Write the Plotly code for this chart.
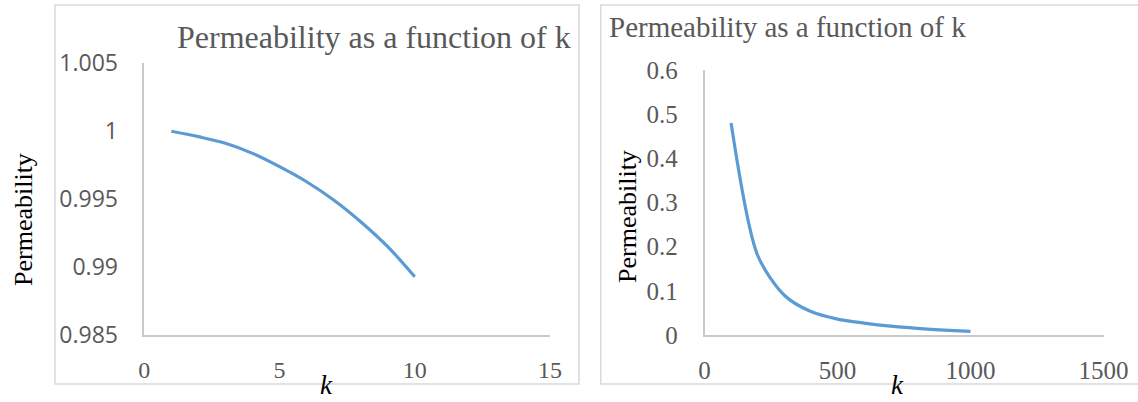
import plotly.graph_objects as go

# ---- data ----
k_small = [1, 2, 3, 4, 5, 6, 7, 8, 9, 10]
perm_small = [1.0, 0.9996, 0.99911, 0.99837, 0.99739, 0.99628, 0.99494, 0.99334, 0.9915, 0.98929]

k_large = [100, 200, 300, 400, 500, 600, 700, 800, 900, 1000]
perm_large = [0.48, 0.18, 0.09, 0.053, 0.036, 0.027, 0.020, 0.015, 0.011, 0.008]

left_x_ticks = [0, 5, 10, 15]
left_y_ticks = [0.985, 0.99, 0.995, 1.0, 1.005]
left_y_text = ["0.985", "0.99", "0.995", "1", "1.005"]
right_x_ticks = [0, 500, 1000, 1500]
right_y_ticks = [0, 0.1, 0.2, 0.3, 0.4, 0.5, 0.6]
right_y_text = ["0", "0.1", "0.2", "0.3", "0.4", "0.5", "0.6"]

title_text = "Permeability as a function of k"
y_title = "Permeability"
x_title = "k"

# ---- layout helpers ----
W, H = 1138, 402
def dx(px):
    return px / W
def dy(py):
    return 1 - py / H

LINE = "#5B9BD5"
TXT = "#595959"
AX = "#C9C9C9"
BOX = "#D9D9D9"
SERIF = "Liberation Serif"
SANS = "Open Sans"

fig = go.Figure()
fig.add_trace(go.Scatter(x=k_small, y=perm_small, mode="lines", line=dict(color=LINE, width=3.2, shape="spline"),
                         xaxis="x", yaxis="y", showlegend=False, hoverinfo="skip"))
fig.add_trace(go.Scatter(x=k_large, y=perm_large, mode="lines", line=dict(color=LINE, width=3.2, shape="spline", smoothing=0.8),
                         xaxis="x2", yaxis="y2", showlegend=False, hoverinfo="skip"))

common = dict(showgrid=False, zeroline=False, showline=True, linecolor=AX, linewidth=1.5, automargin=False,
              ticks="outside", tickcolor="rgba(0,0,0,0)", fixedrange=True)

fig.update_layout(
    width=W, height=H,
    margin=dict(l=0, r=0, t=0, b=0, pad=0, autoexpand=False),
    paper_bgcolor="white", plot_bgcolor="white",
    xaxis=dict(domain=[dx(144.3), dx(550)], range=[0, 15], tickvals=left_x_ticks,
               tickfont=dict(family=SERIF, size=24, color=TXT), ticklen=12, anchor="y", **common),
    yaxis=dict(domain=[dy(335), dy(63.3)], range=[0.985, 1.005], tickvals=left_y_ticks, ticktext=left_y_text,
               tickfont=dict(family=SANS, size=23, color=TXT), ticklen=20, anchor="x", **common),
    xaxis2=dict(domain=[dx(704.5), dx(1103.5)], range=[0, 1500], tickvals=right_x_ticks,
                tickfont=dict(family=SERIF, size=25, color=TXT), ticklen=12, anchor="y2", **common),
    yaxis2=dict(domain=[dy(335), dy(70)], range=[0, 0.6], tickvals=right_y_ticks, ticktext=right_y_text,
                tickfont=dict(family=SERIF, size=25, color=TXT), ticklen=20, anchor="x2", **common),
    shapes=[
        dict(type="rect", xref="paper", yref="paper", x0=dx(55), x1=dx(579), y0=dy(384), y1=dy(5),
             line=dict(color=BOX, width=1.5), fillcolor="rgba(0,0,0,0)", layer="below"),
        dict(type="rect", xref="paper", yref="paper", x0=dx(600.7), x1=dx(1150), y0=dy(384), y1=dy(5),
             line=dict(color=BOX, width=1.5), fillcolor="rgba(0,0,0,0)", layer="below"),
    ],
    annotations=[
        dict(text=title_text, xref="paper", yref="paper", x=dx(374), y=dy(37), xanchor="center", yanchor="middle",
             showarrow=False, font=dict(family=SERIF, size=32, color=TXT)),
        dict(text=title_text, xref="paper", yref="paper", x=dx(607), y=dy(27), xanchor="left", yanchor="middle",
             showarrow=False, font=dict(family=SERIF, size=29, color=TXT)),
        dict(text=y_title, xref="paper", yref="paper", x=dx(24), y=dy(220), xanchor="center", yanchor="middle",
             textangle=-90, showarrow=False, font=dict(family=SERIF, size=26, color="black")),
        dict(text=y_title, xref="paper", yref="paper", x=dx(627), y=dy(217), xanchor="center", yanchor="middle",
             textangle=-90, showarrow=False, font=dict(family=SERIF, size=26, color="black")),
        dict(text="<i>" + x_title + "</i>", xref="paper", yref="paper", x=dx(326), y=0, xanchor="center", yanchor="bottom",
             showarrow=False, font=dict(family=SERIF, size=27, color="black")),
        dict(text="<i>" + x_title + "</i>", xref="paper", yref="paper", x=dx(897), y=0, xanchor="center", yanchor="bottom",
             showarrow=False, font=dict(family=SERIF, size=27, color="black")),
    ],
)

fig.write_html("out.html", config={"displayModeBar": False},
               post_script="document.body.style.margin='0';document.body.style.overflow='hidden';")
